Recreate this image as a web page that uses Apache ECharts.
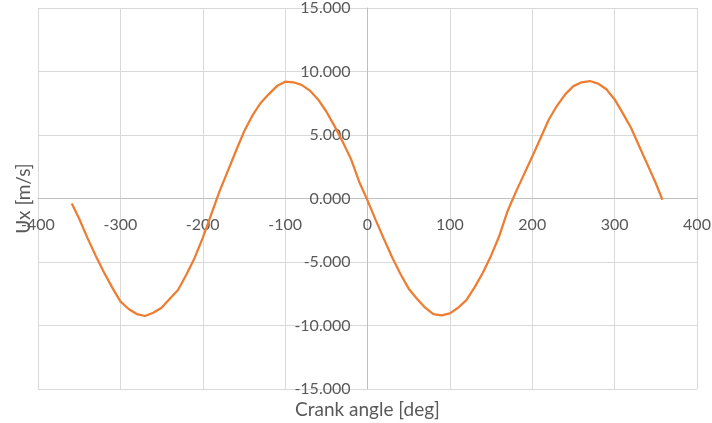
<!DOCTYPE html>
<html>
<head>
<meta charset="utf-8">
<script src="https://cdn.jsdelivr.net/npm/echarts@6/dist/echarts.min.js"></script>
<style>
html,body{margin:0;padding:0;background:#fff;}
#chart{width:712px;height:423px;}
</style>
</head>
<body>
<div id="chart"></div>
<script>
// Crank angle [deg]
const angles = [-359,-350,-340,-330,-320,-310,-300,-290,-280,-270,-260,-250,-240,-230,-220,-210,-200,-190,-180,-170,-160,-150,-140,-130,-120,-110,-100,-90,-80,-70,-60,-50,-40,-30,-20,-10,0,10,20,30,40,50,60,70,80,90,100,110,120,130,140,150,160,170,180,190,200,210,220,230,240,250,260,270,280,290,300,310,320,330,340,350,358];
// Ux [m/s]
const ux = [-0.4,-1.6,-3.1,-4.5,-5.8,-7.0,-8.1,-8.7,-9.1,-9.25,-9.0,-8.6,-7.9,-7.2,-6.0,-4.7,-3.1,-1.3,0.5,2.1,3.7,5.25,6.5,7.5,8.2,8.85,9.2,9.15,8.95,8.5,7.8,6.85,5.7,4.45,3.1,1.3,-0.15,-1.7,-3.2,-4.65,-5.95,-7.1,-7.9,-8.6,-9.1,-9.2,-9.05,-8.6,-8.0,-7.0,-5.85,-4.5,-2.95,-1.0,0.5,1.9,3.3,4.75,6.2,7.3,8.2,8.85,9.15,9.25,9.05,8.6,7.8,6.7,5.55,4.1,2.65,1.2,-0.1];
const xTicks = {min:-400, max:400, step:100};
const yTicks = {min:-15, max:15, step:5};
const xName = 'Crank angle [deg]';
const yName = 'Ux [m/s]';

const W = 712, H = 423;
const G = {left:38, right:15, top:8, bottom:34};
const plotW = W - G.left - G.right, plotH = H - G.top - G.bottom;
// shift the axes (line + labels + name) onto the zero lines
const xOff = -plotH * (0 - yTicks.min) / (yTicks.max - yTicks.min);
const yOff = -plotW * (0 - xTicks.min) / (xTicks.max - xTicks.min);

const chart = echarts.init(document.getElementById('chart'));
const txt = '#595959';
const font = 'Lato';
chart.setOption({
  animation:false,
  backgroundColor:'#fff',
  grid:{left:G.left,right:G.right,top:G.top,bottom:G.bottom,containLabel:false,outerBoundsMode:'none'},
  xAxis:{
    type:'value', min:xTicks.min, max:xTicks.max, interval:xTicks.step,
    offset:xOff,
    axisLine:{onZero:false,lineStyle:{color:'#bfbfbf',width:1}},
    axisTick:{show:false},
    axisLabel:{color:txt,fontFamily:font,fontSize:16,margin:18,showMinLabel:true,showMaxLabel:true,hideOverlap:false},
    splitLine:{show:true,lineStyle:{color:'#d9d9d9',width:1}},
    name:xName, nameLocation:'middle', nameGap:202,
    nameTextStyle:{color:txt,fontFamily:font,fontSize:19}
  },
  yAxis:{
    type:'value', min:yTicks.min, max:yTicks.max, interval:yTicks.step,
    offset:yOff,
    axisLine:{show:true,onZero:false,lineStyle:{color:'#bfbfbf',width:1}},
    axisTick:{show:false},
    axisLabel:{color:txt,fontFamily:font,fontSize:16,margin:17,formatter:v=>v.toFixed(3)},
    splitLine:{show:true,lineStyle:{color:'#d9d9d9',width:1}},
    name:yName, nameLocation:'middle', nameGap:334, nameRotate:90,
    nameTextStyle:{color:txt,fontFamily:font,fontSize:19}
  },
  series:[{
    type:'line',
    data:angles.map((a,i)=>[a,ux[i]]),
    showSymbol:false,
    smooth:false,
    lineStyle:{color:'#ED7D31',width:2.25},
    itemStyle:{color:'#ED7D31'}
  }]
});
</script>
</body>
</html>
